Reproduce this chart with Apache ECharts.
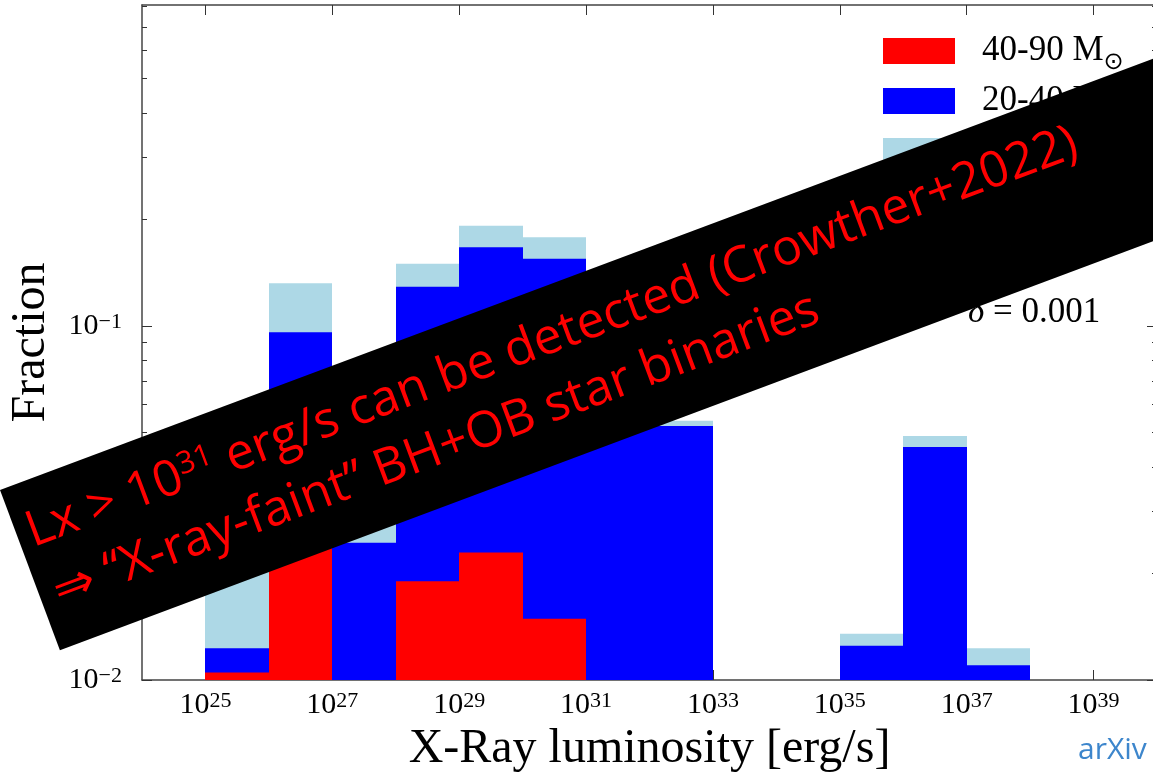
<!DOCTYPE html>
<html>
<head>
<meta charset="utf-8">
<script src="https://cdn.jsdelivr.net/npm/echarts@6/dist/echarts.min.js"></script>
<style>
  html, body { margin: 0; padding: 0; background: #fff; }
  #chart { width: 1153px; height: 775px; }
</style>
</head>
<body>
<div id="chart"></div>
<script>
// left edge of each bin, as log10(Lx / erg s^-1); every bin is one decade wide
const binStart = [25, 26, 27, 28, 29, 30, 31, 32, 33, 34, 35, 36, 37];
// fraction per bin (0 = empty bin)
const fracAll = [0.038, 0.132, 0.045, 0.150, 0.192, 0.178, 0.095, 0.054, 0, 0, 0.0135, 0.0489, 0.0123];
const frac20to40 = [0.0123, 0.096, 0.0244, 0.129, 0.167, 0.155, 0.085, 0.0522, 0, 0, 0.0125, 0.0455, 0.0110];
const frac40to90 = [0.0105, 0.045, 0, 0.019, 0.0229, 0.0149, 0, 0, 0, 0, 0, 0, 0];
const legendNames = ["40-90", "20-40", "10-20"];
// tick positions
const xTicks = [25, 27, 29, 31, 33, 35, 37, 39];
const yMajor = [0.01, 0.1];
const yMinor = [0.02, 0.03, 0.04, 0.05, 0.06, 0.07, 0.08, 0.09, 0.2, 0.3, 0.4, 0.5, 0.6, 0.7, 0.8];
const yTop = 0.807;

const serif = "Liberation Serif";
const yLow = Math.log10(yMajor[0]);

function toData(vals) {
  // drop empty bins, y stored as log10(fraction)
  return binStart
    .map((b, i) => [b, vals[i] > 0 ? Math.log10(vals[i]) : null])
    .filter(d => d[1] !== null);
}

function histItem(params, api) {
  const x0 = api.value(0);
  const p0 = api.coord([x0, api.value(1)]);
  const p1 = api.coord([x0 + 1, yLow]);
  // snap to whole pixels so neighbouring bins don't leave a seam
  const left = Math.round(p0[0]), right = Math.round(p1[0]);
  return {
    type: "rect",
    shape: { x: left, y: p0[1], width: right - left, height: p1[1] - p0[1] },
    style: { fill: api.visual("color") }
  };
}

const axisLineStyle = { color: "#444", width: 1.5 };

function xAxisCfg(pos) {
  return {
    type: "value", min: 24, max: 40, position: pos,
    axisLine: { onZero: false, lineStyle: axisLineStyle },
    axisTick: { inside: true, length: 10, customValues: xTicks, lineStyle: { color: "#333" } },
    axisLabel: pos === "bottom" ? {
      customValues: xTicks, margin: 10, color: "#000",
      fontFamily: serif, fontSize: 30, lineHeight: 30,
      formatter: v => "10{sup|" + v + "}",
      rich: { sup: { fontFamily: serif, fontSize: 22, lineHeight: 17, verticalAlign: "top", color: "#000" } }
    } : { show: false },
    splitLine: { show: false }
  };
}

function yAxisCfg(pos, minor) {
  const ticks = (minor ? yMinor : yMajor).map(v => Math.log10(v));
  return {
    type: "value", min: yLow, max: Math.log10(yTop), position: pos,
    axisLine: { show: !minor, onZero: false, lineStyle: axisLineStyle },
    axisTick: { inside: true, length: minor ? 5 : 10, customValues: ticks, lineStyle: { color: "#333" } },
    axisLabel: (pos === "left" && !minor) ? {
      customValues: ticks, margin: 20, color: "#000",
      fontFamily: serif, fontSize: 30, lineHeight: 30,
      formatter: v => "10{sup|\u2212" + Math.round(-v) + "}",
      rich: { sup: { fontFamily: serif, fontSize: 22, lineHeight: 17, verticalAlign: "top", color: "#000" } }
    } : { show: false },
    splitLine: { show: false }
  };
}

const xMain = xAxisCfg("bottom");
xMain.name = "X-Ray luminosity [erg/s]";
xMain.nameLocation = "middle";
xMain.nameGap = 42;
xMain.nameTextStyle = { fontFamily: serif, fontSize: 48, color: "#000" };

const yMain = yAxisCfg("left", false);
yMain.name = "Fraction";
yMain.nameLocation = "middle";
yMain.nameRotate = 90;
yMain.nameGap = 87;
yMain.nameTextStyle = { fontFamily: serif, fontSize: 48, color: "#000" };

const bannerFont = "50px 'Open Sans'";

const chart = echarts.init(document.getElementById("chart"));
chart.setOption({
  backgroundColor: "#fff",
  animation: false,
  grid: { left: 142, top: 5, width: 1015, height: 675, containLabel: false, outerBoundsMode: "none" },
  xAxis: [xMain, xAxisCfg("top")],
  yAxis: [yMain, yAxisCfg("left", true), yAxisCfg("right", false), yAxisCfg("right", true)],
  legend: {
    orient: "vertical", left: 883, top: 27.5, padding: 0,
    itemWidth: 72, itemHeight: 26, itemGap: 3, icon: "rect",
    selectedMode: false,
    data: legendNames,
    formatter: n => n + " M{sub|\u2299}",
    textStyle: {
      fontFamily: serif, fontSize: 35, lineHeight: 47, color: "#000", padding: [0, 0, 0, 22],
      rich: { sub: { fontFamily: "DejaVu Sans", fontSize: 24, lineHeight: 22, verticalAlign: "bottom", color: "#000" } }
    }
  },
  series: [
    { name: legendNames[2], type: "custom", renderItem: histItem, clip: true, itemStyle: { color: "#add8e6" }, data: toData(fracAll) },
    { name: legendNames[1], type: "custom", renderItem: histItem, clip: true, itemStyle: { color: "#0000ff" }, data: toData(frac20to40) },
    { name: legendNames[0], type: "custom", renderItem: histItem, clip: true, itemStyle: { color: "#ff0000" }, data: toData(frac40to90) }
  ],
  graphic: [
    {
      type: "text", x: 968, y: 313, z: 50,
      style: {
        text: "{i|\u03b4} = 0.001", fill: "#000", font: "35px " + serif, verticalAlign: "middle",
        rich: { i: { fontFamily: serif, fontStyle: "italic", fontSize: 35 } }
      }
    },
    {
      type: "text", x: 1078, y: 750, z: 50,
      style: { text: "arXiv", fill: "#3d86cc", font: "30px 'Open Sans'", verticalAlign: "middle" }
    },
    {
      type: "group", x: 0, y: 490, rotation: 0.358, z: 100, zlevel: 1,
      children: [
        { type: "rect", z: 100, zlevel: 1, shape: { x: 0, y: 0, width: 1400, height: 171 }, style: { fill: "#000" } },
        {
          type: "text", x: 11, y: 51, z: 101, zlevel: 1,
          style: {
            text: "Lx > 10{sup|31} erg/s can be detected (Crowther+2022)",
            fill: "#ff0000", font: bannerFont, lineHeight: 52, verticalAlign: "middle",
            rich: { sup: { fontFamily: "Open Sans", fontSize: 31, lineHeight: 20, verticalAlign: "top", fill: "#ff0000" } }
          }
        },
        {
          type: "text", x: 15, y: 116, z: 101, zlevel: 1,
          style: { text: "\u21d2 \u201cX-ray-faint\u201d BH+OB star binaries", fill: "#ff0000", font: bannerFont, verticalAlign: "middle" }
        }
      ]
    }
  ]
});
</script>
</body>
</html>
